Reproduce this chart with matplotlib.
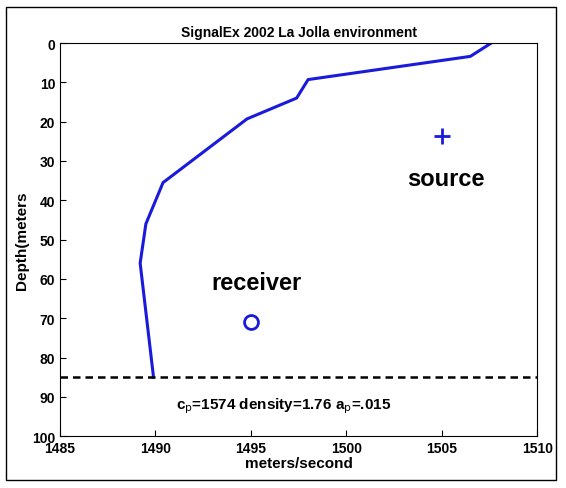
import matplotlib
matplotlib.use("Agg")
import matplotlib.pyplot as plt
from matplotlib.patches import Rectangle

plt.rcParams['font.family'] = ['Liberation Sans', 'DejaVu Sans']

# sound speed profile
speed = [1507.6, 1506.5, 1498.0, 1497.4, 1494.8, 1490.4, 1489.5, 1489.2, 1489.9]
depth = [0, 3.4, 9.3, 14.0, 19.3, 35.5, 46.0, 56.0, 85.0]
source_pos = (1505, 23.7)
receiver_pos = (1495, 71)
bottom_depth = 85

fig = plt.figure(figsize=(5.66, 4.89), dpi=100)
fig.patches.append(Rectangle((0.011, 0.016), 0.972, 0.968, transform=fig.transFigure,
                             fill=False, edgecolor='black', linewidth=1.0))
ax = fig.add_axes([0.106, 0.106, 0.843, 0.804])

ax.plot(speed, depth, color='#1a1adc', linewidth=2.2)
ax.plot(*source_pos, marker='+', color='#1a1adc', markersize=11, markeredgewidth=2)
ax.plot(*receiver_pos, marker='o', color='#1a1adc', markersize=10, markeredgewidth=2,
        markerfacecolor='none')
ax.axhline(bottom_depth, color='black', linestyle='--', linewidth=1.8, dashes=(3, 2))

ax.text(1505.2, 34.5, 'source', fontsize=17, fontweight='bold', ha='center', va='center')
ax.text(1495.3, 61, 'receiver', fontsize=17, fontweight='bold', ha='center', va='center')
ax.text(1496.7, 92.2, r'c$_\mathrm{p}$=1574 density=1.76 a$_\mathrm{p}$=.015',
        fontsize=11, fontweight='bold', ha='center', va='center')

ax.set_xlim(1485, 1510)
ax.set_ylim(100, 0)
ax.set_xticks(range(1485, 1511, 5))
ax.set_yticks(range(0, 101, 10))
ax.tick_params(direction='in', labelsize=10, length=4)
for lbl in ax.get_xticklabels() + ax.get_yticklabels():
    lbl.set_fontweight('bold')
ax.set_xlabel('meters/second', fontsize=11, fontweight='bold', labelpad=1)
ax.set_ylabel('Depth(meters', fontsize=11, fontweight='bold', labelpad=2)
ax.set_title('SignalEx 2002 La Jolla environment', fontsize=10, fontweight='bold', pad=5)

fig.savefig('out.png', dpi=100)
